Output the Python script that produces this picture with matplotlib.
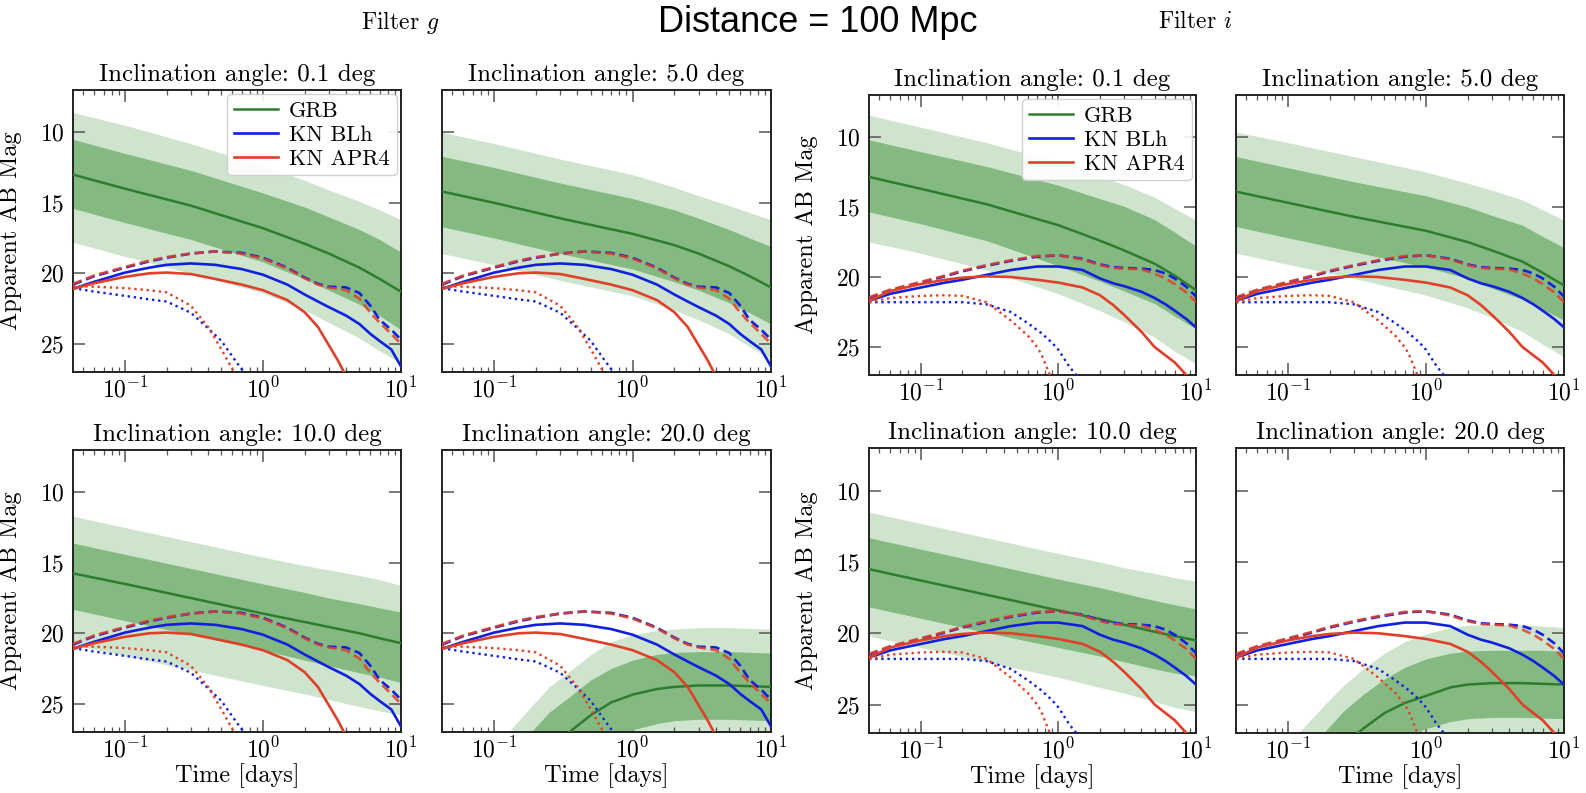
import numpy as np
import matplotlib
matplotlib.use("Agg")
import matplotlib.pyplot as plt
from matplotlib.ticker import FixedLocator

plt.rcParams['font.family'] = 'serif'
plt.rcParams['font.serif'] = ['cmr10']
plt.rcParams['mathtext.fontset'] = 'cm'
plt.rcParams['axes.formatter.use_mathtext'] = True

# ---------------- data ----------------
ANGLES = [0.1, 5.0, 10.0, 20.0]

# GRB afterglow: median and 1/2-sigma envelopes (apparent AB mag)
T_GRB = [0.042, 0.1, 0.3, 1, 2, 3, 5, 7, 10]
T_GRB_OFF = [0.1, 0.13, 0.185, 0.25, 0.35, 0.5, 0.7, 1, 1.5, 2, 3, 5, 7, 10]

# filter g
G_A01_LO2 = [8.6, 9.5, 10.8, 12.4, 13.4, 14.1, 14.9, 15.5, 16.2]
G_A01_LO1 = [10.5, 11.5, 12.7, 14.3, 15.3, 16.0, 16.9, 17.6, 18.5]
G_A01_MED = [13.0, 14.0, 15.2, 16.8, 17.9, 18.6, 19.6, 20.4, 21.3]
G_A01_HI1 = [15.4, 16.4, 17.6, 19.2, 20.4, 21.2, 22.2, 23.0, 24.0]
G_A01_HI2 = [17.8, 18.8, 20.0, 21.4, 22.6, 23.5, 24.6, 25.5, 26.4]

G_A05_LO2 = [10.0, 10.8, 11.9, 13.0, 13.9, 14.5, 15.2, 15.7, 16.2]
G_A05_LO1 = [11.7, 12.5, 13.6, 14.7, 15.5, 16.1, 16.9, 17.5, 18.1]
G_A05_MED = [14.2, 15.0, 16.1, 17.2, 18.0, 18.6, 19.5, 20.2, 21.0]
G_A05_HI1 = [16.7, 17.5, 18.6, 19.7, 20.6, 21.2, 22.1, 22.8, 23.6]
G_A05_HI2 = [18.6, 19.4, 20.5, 21.6, 22.6, 23.3, 24.3, 25.2, 26.1]

G_A10_LO2 = [11.7, 12.5, 13.5, 14.6, 15.2, 15.5, 15.9, 16.2, 16.6]
G_A10_LO1 = [13.6, 14.4, 15.4, 16.5, 17.1, 17.5, 17.9, 18.2, 18.5]
G_A10_MED = [15.75, 16.5, 17.5, 18.6, 19.2, 19.55, 20.0, 20.35, 20.7]
G_A10_HI1 = [18.3, 19.1, 20.1, 21.2, 21.9, 22.3, 22.8, 23.1, 23.5]
G_A10_HI2 = [20.8, 21.6, 22.6, 23.7, 24.3, 24.7, 25.2, 25.5, 25.8]

G_A20_LO2 = [28.2, 26.9, 25.2, 23.8, 22.7, 21.5, 20.6, 20.1, 19.8, 19.7, 19.6, 19.6, 19.65, 19.7]
G_A20_LO1 = [30.1, 28.8, 27.0, 25.6, 24.5, 23.3, 22.5, 21.9, 21.5, 21.35, 21.3, 21.3, 21.35, 21.4]
G_A20_MED = [32.5, 31.2, 29.5, 28.1, 27.0, 25.8, 24.9, 24.35, 23.95, 23.8, 23.7, 23.7, 23.75, 23.8]
G_A20_HI1 = [34.9, 33.6, 31.9, 30.5, 29.4, 28.2, 27.4, 26.85, 26.4, 26.2, 26.1, 26.1, 26.15, 26.2]
G_A20_HI2 = [36.8, 35.5, 33.8, 32.4, 31.3, 30.1, 29.2, 28.65, 28.25, 28.1, 28.0, 28.0, 28.05, 28.1]

# filter i
I_A01_LO2 = [8.45, 9.3, 10.4, 11.8, 12.8, 13.4, 14.3, 15.1, 15.95]
I_A01_LO1 = [10.2, 11.05, 12.1, 13.45, 14.4, 14.95, 15.9, 16.8, 17.8]
I_A01_MED = [12.85, 13.7, 14.8, 16.3, 17.4, 18.1, 19.05, 19.9, 20.95]
I_A01_HI1 = [15.35, 16.2, 17.4, 19.2, 20.3, 21.0, 21.9, 22.8, 23.7]
I_A01_HI2 = [17.5, 18.3, 19.5, 21.2, 22.4, 23.2, 24.3, 25.3, 26.2]

I_A05_LO2 = [9.65, 10.4, 11.4, 12.5, 13.3, 13.8, 14.5, 15.2, 15.95]
I_A05_LO1 = [11.4, 12.2, 13.2, 14.2, 15.0, 15.6, 16.3, 17.1, 17.9]
I_A05_MED = [13.9, 14.7, 15.7, 16.7, 17.5, 18.1, 18.9, 19.7, 20.6]
I_A05_HI1 = [16.4, 17.2, 18.2, 19.3, 20.1, 20.8, 21.6, 22.3, 23.1]
I_A05_HI2 = [18.3, 19.1, 20.1, 21.3, 22.2, 22.9, 23.9, 24.8, 25.7]

I_A10_LO2 = [11.5, 12.3, 13.3, 14.4, 15.0, 15.4, 15.8, 16.1, 16.35]
I_A10_LO1 = [13.3, 14.1, 15.1, 16.2, 16.8, 17.2, 17.7, 18.0, 18.3]
I_A10_MED = [15.5, 16.3, 17.3, 18.4, 19.0, 19.4, 19.9, 20.2, 20.5]
I_A10_HI1 = [18.15, 18.95, 19.95, 21.0, 21.6, 22.0, 22.5, 22.8, 23.0]
I_A10_HI2 = [20.2, 21.0, 22.0, 23.1, 23.8, 24.2, 24.8, 25.2, 25.5]

I_A20_LO2 = [27.8, 26.6, 25.0, 23.7, 22.5, 21.4, 20.6, 20.05, 19.6, 19.45, 19.4, 19.4, 19.5, 19.6]
I_A20_LO1 = [29.7, 28.5, 26.9, 25.5, 24.3, 23.2, 22.4, 21.8, 21.4, 21.25, 21.2, 21.2, 21.2, 21.25]
I_A20_MED = [32.0, 30.8, 29.2, 27.9, 26.7, 25.6, 24.9, 24.4, 23.8, 23.6, 23.5, 23.5, 23.55, 23.6]
I_A20_HI1 = [34.3, 33.1, 31.5, 30.2, 29.0, 27.9, 27.2, 26.7, 26.2, 26.0, 25.9, 25.9, 25.95, 26.0]
I_A20_HI2 = [36.2, 35.0, 33.4, 32.1, 31.0, 29.9, 29.2, 28.6, 28.1, 27.9, 27.8, 27.8, 27.85, 27.9]

# Kilonova light curves (BLh and APR4 EOS): total (dashed), and components
T_KN = [0.042, 0.06, 0.1, 0.15, 0.2, 0.3, 0.45, 0.7, 1, 1.5, 2, 2.5, 3, 4, 5, 6, 7, 8.5, 10]

G_BLH_SOLID = [21.1, 20.6, 19.95, 19.6, 19.4, 19.3, 19.4, 19.7, 20.1, 20.8, 21.5, 22.0, 22.4, 23.0, 23.6, 24.3, 24.8, 25.4, 26.6]
G_BLH_DASHED = [20.8, 20.2, 19.6, 19.15, 18.9, 18.6, 18.45, 18.55, 18.9, 19.6, 20.3, 20.75, 20.95, 21.0, 21.4, 22.3, 23.3, 24.0, 24.7]
G_APR_DASHED = [20.75, 20.15, 19.55, 19.1, 18.85, 18.6, 18.45, 18.6, 18.95, 19.65, 20.35, 20.8, 21.0, 21.2, 21.8, 22.8, 23.5, 24.3, 25.0]
T_G_APR_SOLID = [0.042, 0.06, 0.1, 0.15, 0.2, 0.3, 0.45, 0.7, 1, 1.5, 2, 2.5, 3, 3.5, 4]
G_APR_SOLID = [21.1, 20.7, 20.25, 20.0, 19.95, 20.05, 20.4, 20.8, 21.2, 21.9, 22.75, 23.8, 25.1, 26.2, 27.3]
T_G_BLH_DOT = [0.042, 0.06, 0.1, 0.15, 0.2, 0.3, 0.4, 0.5, 0.6, 0.75]
G_BLH_DOT = [21.05, 21.3, 21.6, 21.85, 22.0, 22.8, 23.9, 24.8, 25.9, 27.2]
T_G_APR_DOT = [0.042, 0.06, 0.1, 0.15, 0.2, 0.3, 0.4, 0.5, 0.6, 0.65]
G_APR_DOT = [20.9, 20.95, 21.05, 21.2, 21.35, 22.3, 23.8, 25.4, 26.8, 27.5]

I_BLH_SOLID = [21.7, 21.2, 20.75, 20.4, 20.2, 19.85, 19.5, 19.25, 19.25, 19.5, 20.1, 20.45, 20.65, 21.05, 21.5, 21.95, 22.4, 23.0, 23.6]
I_APR_SOLID = [21.7, 21.0, 20.5, 20.2, 20.05, 19.95, 20.0, 20.2, 20.4, 20.75, 21.3, 22.0, 22.7, 23.9, 25.0, 25.6, 26.1, 27.0, 28.0]
I_BLH_DASHED = [21.5, 20.95, 20.4, 19.95, 19.6, 19.2, 18.85, 18.55, 18.45, 18.7, 19.1, 19.3, 19.35, 19.4, 19.5, 19.75, 20.1, 20.7, 21.4]
I_APR_DASHED = [21.45, 20.9, 20.35, 19.9, 19.55, 19.15, 18.8, 18.5, 18.45, 18.75, 19.15, 19.35, 19.4, 19.45, 19.75, 20.1, 20.5, 21.1, 21.8]
T_I_BLH_DOT = [0.042, 0.06, 0.1, 0.15, 0.2, 0.3, 0.45, 0.6, 0.75, 0.9, 1.0, 1.2, 1.4]
I_BLH_DOT = [21.8, 21.8, 21.8, 21.8, 21.8, 21.95, 22.5, 23.3, 24.0, 24.7, 25.2, 26.4, 27.2]
T_I_APR_DOT = [0.042, 0.06, 0.1, 0.15, 0.2, 0.3, 0.45, 0.6, 0.7, 0.75, 0.85, 0.9]
I_APR_DOT = [21.8, 21.5, 21.35, 21.3, 21.35, 21.8, 23.1, 24.2, 25.0, 25.5, 26.8, 27.5]

# ---------------- style ----------------
C_GRB = '#2e7d2e'
C_LIGHT = '#cfe4cc'
C_DARK = '#84ba82'
C_BLH = '#1020e0'
C_APR = '#e0402a'

W, H = 1586, 793
fig = plt.figure(figsize=(W / 100, H / 100), dpi=100)


def px_axes(x0, x1, y0, y1):
    return fig.add_axes([x0 / W, 1 - y1 / H, (x1 - x0) / W, (y1 - y0) / H])


grb_g = [
    (T_GRB, G_A01_LO2, G_A01_LO1, G_A01_MED, G_A01_HI1, G_A01_HI2),
    (T_GRB, G_A05_LO2, G_A05_LO1, G_A05_MED, G_A05_HI1, G_A05_HI2),
    (T_GRB, G_A10_LO2, G_A10_LO1, G_A10_MED, G_A10_HI1, G_A10_HI2),
    (T_GRB_OFF, G_A20_LO2, G_A20_LO1, G_A20_MED, G_A20_HI1, G_A20_HI2),
]
grb_i = [
    (T_GRB, I_A01_LO2, I_A01_LO1, I_A01_MED, I_A01_HI1, I_A01_HI2),
    (T_GRB, I_A05_LO2, I_A05_LO1, I_A05_MED, I_A05_HI1, I_A05_HI2),
    (T_GRB, I_A10_LO2, I_A10_LO1, I_A10_MED, I_A10_HI1, I_A10_HI2),
    (T_GRB_OFF, I_A20_LO2, I_A20_LO1, I_A20_MED, I_A20_HI1, I_A20_HI2),
]
kn_g = dict(blh_solid=(T_KN, G_BLH_SOLID), apr_solid=(T_G_APR_SOLID, G_APR_SOLID),
            blh_dash=(T_KN, G_BLH_DASHED), apr_dash=(T_KN, G_APR_DASHED),
            blh_dot=(T_G_BLH_DOT, G_BLH_DOT), apr_dot=(T_G_APR_DOT, G_APR_DOT))
kn_i = dict(blh_solid=(T_KN, I_BLH_SOLID), apr_solid=(T_KN, I_APR_SOLID),
            blh_dash=(T_KN, I_BLH_DASHED), apr_dash=(T_KN, I_APR_DASHED),
            blh_dot=(T_I_BLH_DOT, I_BLH_DOT), apr_dot=(T_I_APR_DOT, I_APR_DOT))


def draw_panel(ax, grb, kn, angle, left_col, bottom_row, legend):
    t, lo2, lo1, med, hi1, hi2 = grb
    ax.fill_between(t, lo2, hi2, color=C_LIGHT, lw=0, zorder=1)
    ax.fill_between(t, lo1, hi1, color=C_DARK, lw=0, zorder=2)
    l_grb, = ax.plot(t, med, color=C_GRB, lw=1.8, zorder=3, label='GRB')
    l_blh, = ax.plot(*kn['blh_solid'], color=C_BLH, lw=1.9, zorder=4, label='KN BLh')
    l_apr, = ax.plot(*kn['apr_solid'], color=C_APR, lw=1.9, zorder=5, label='KN APR4')
    ax.plot(*kn['blh_dash'], color=C_BLH, lw=1.9, ls=(0, (3.5, 1.8)), zorder=4)
    ax.plot(*kn['apr_dash'], color=C_APR, lw=1.9, ls=(0, (3.5, 1.8)), alpha=0.85, zorder=5)
    ax.plot(*kn['blh_dot'], color=C_BLH, lw=1.7, ls=(0, (1, 1.6)), zorder=4)
    ax.plot(*kn['apr_dot'], color=C_APR, lw=1.7, ls=(0, (1, 1.6)), zorder=5)

    ax.set_xscale('log')
    ax.set_xlim(0.042, 10)
    ax.set_ylim(27, 7)
    ax.yaxis.set_major_locator(FixedLocator([10, 15, 20, 25]))
    ax.tick_params(which='both', direction='in', top=True, right=True, color='#555555')
    ax.tick_params(which='major', length=8.5, width=1.1)
    ax.tick_params(which='minor', length=3.8, width=0.9)
    ax.tick_params(axis='x', labelsize=17, pad=4)
    ax.tick_params(axis='y', labelsize=17, pad=6)
    for s in ax.spines.values():
        s.set_linewidth(1.4)
        s.set_color('#222222')
    ax.set_title(f'Inclination angle: {angle:.1f} deg', fontsize=18, pad=6.5)
    if left_col:
        ax.set_ylabel('Apparent AB Mag', fontsize=17.5)
        ax.yaxis.set_label_coords(-0.155, 0.5)
    else:
        ax.tick_params(axis='y', labelleft=False)
    if bottom_row:
        ax.set_xlabel('Time [days]', fontsize=17.5)
        ax.xaxis.set_label_coords(0.5, -0.11)
    if legend:
        ax.legend(handles=[l_grb, l_blh, l_apr], loc='upper right', fontsize=16,
                  framealpha=0.9, edgecolor='#cccccc', borderaxespad=0.2,
                  labelspacing=0.2, handlelength=2.0, handletextpad=0.5,
                  borderpad=0.3)


groups = [
    (grb_g, kn_g, [(73, 401), (442, 771)], [(90, 372), (450, 732)]),
    (grb_i, kn_i, [(869, 1196), (1236, 1564)], [(95, 375), (448, 733)]),
]
for grb_set, kn, xs, ys in groups:
    for k, angle in enumerate(ANGLES):
        r, c = divmod(k, 2)
        ax = px_axes(xs[c][0], xs[c][1], ys[r][0], ys[r][1])
        draw_panel(ax, grb_set[k], kn, angle, c == 0, r == 1, k == 0)

fig.text(818 / W, 1 - 22 / H, 'Distance = 100 Mpc', fontsize=26,
         family='Liberation Sans', ha='center', va='center')
fig.text(400 / W, 1 - 22 / H, 'Filter $g$', fontsize=17, ha='center', va='center')
fig.text(1195 / W, 1 - 22 / H, 'Filter $i$', fontsize=17, ha='center', va='center')

fig.savefig('out.png', dpi=100)
